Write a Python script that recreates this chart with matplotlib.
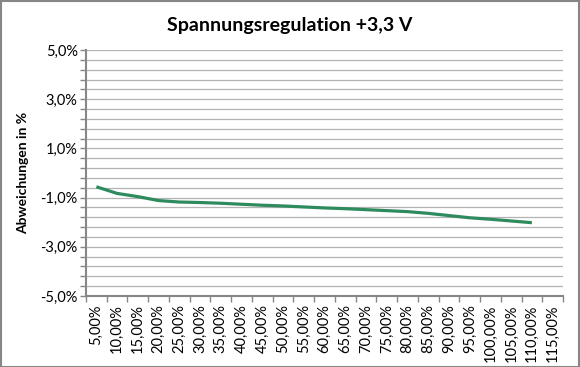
import matplotlib
matplotlib.use("Agg")
import matplotlib.pyplot as plt
import numpy as np

categories = ["5,00%", "10,00%", "15,00%", "20,00%", "25,00%", "30,00%", "35,00%",
              "40,00%", "45,00%", "50,00%", "55,00%", "60,00%", "65,00%", "70,00%",
              "75,00%", "80,00%", "85,00%", "90,00%", "95,00%", "100,00%", "105,00%",
              "110,00%", "115,00%"]
deviation = [-0.56, -0.83, -0.96, -1.12, -1.18, -1.20, -1.23, -1.27, -1.31, -1.34,
             -1.38, -1.42, -1.45, -1.49, -1.53, -1.57, -1.64, -1.73, -1.82, -1.88,
             -1.95, -2.02]
y_labels = ["5,0%", "3,0%", "1,0%", "-1,0%", "-3,0%", "-5,0%"]
y_label_values = [5, 3, 1, -1, -3, -5]

plt.rcParams['font.family'] = ['Lato', 'DejaVu Sans']

fig = plt.figure(figsize=(5.8, 3.67), dpi=100)
ax = fig.add_axes([86/580, 1-296/367, (563-86)/580, (296-50)/367])

x = np.arange(len(deviation))
ax.plot(x, deviation, color="#2E8B5E", lw=2.3, solid_capstyle="butt")

ax.set_xlim(-0.5, len(categories) - 0.5)
ax.set_ylim(-5, 5)

grid_vals = np.linspace(-5, 5, 26)
for g in grid_vals:
    if g > -5 + 1e-9:
        ax.axhline(g, color="#B3B3B3", lw=0.9, zorder=0)

ax.set_yticks(y_label_values)
ax.set_yticklabels(y_labels, fontsize=10.5)
ax.set_yticks(grid_vals, minor=True)
ax.tick_params(axis='y', which='both', direction='out', length=4, color="#868686", width=1, pad=2)

ax.set_xticks(np.arange(len(categories)))
ax.set_xticklabels(categories, rotation=90, fontsize=10.5, va='top')
ax.tick_params(axis='x', which='major', length=0, pad=6)
ax.set_xticks(np.arange(len(categories) + 1) - 0.5, minor=True)
ax.tick_params(axis='x', which='minor', direction='out', length=4, color="#868686", width=1)

for s in ['top', 'right']:
    ax.spines[s].set_visible(False)
for s in ['left', 'bottom']:
    ax.spines[s].set_color("#868686")
    ax.spines[s].set_linewidth(1.5)

ax.set_ylabel("Abweichungen in %", fontsize=10, fontweight='bold', labelpad=8)
fig.text(0.5, 1 - 26/367, "Spannungsregulation +3,3 V", ha='center', va='center',
         fontsize=14, fontweight='bold')

# outer border
fig.patches.append(plt.Rectangle((0.001, 0.001), 0.998, 0.997, transform=fig.transFigure,
                                 fill=False, edgecolor="#868686", lw=1.5))

fig.savefig("out.png", dpi=100)
